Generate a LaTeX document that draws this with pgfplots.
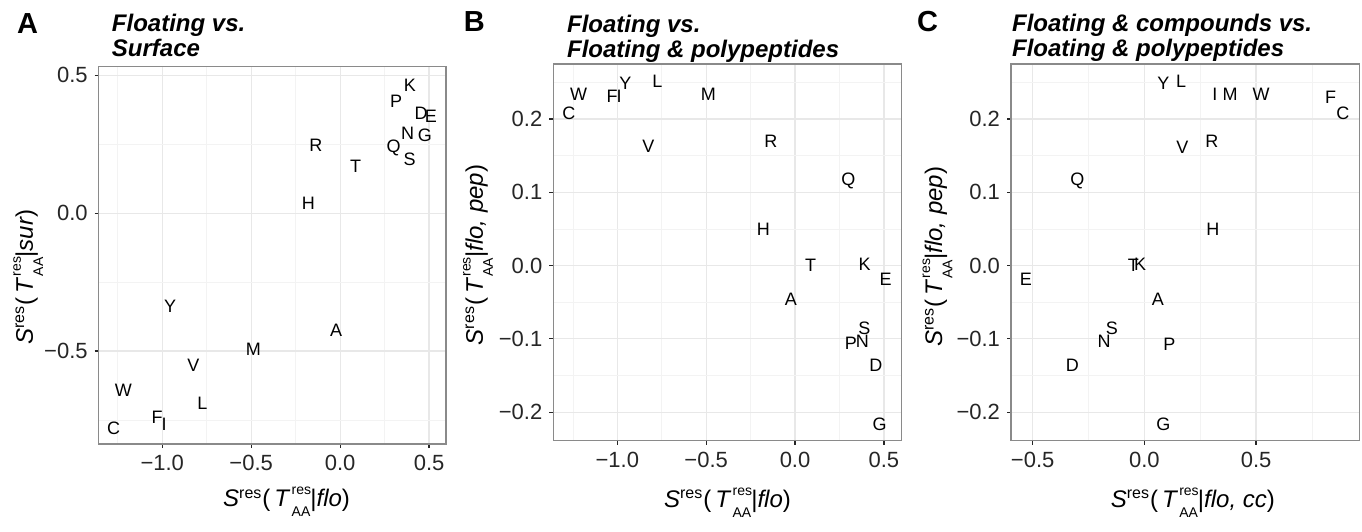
\documentclass[border=0pt]{standalone}
\usepackage{fontspec}
\setmainfont{Liberation Sans}
\usepackage{pgfplots}
\usepackage{pgfplotstable}
\pgfplotsset{compat=1.18}

\definecolor{bord}{HTML}{8A8A8A}
\definecolor{gridmaj}{HTML}{E8E8E8}
\definecolor{gridmin}{HTML}{F3F3F3}
\definecolor{tickc}{HTML}{262626}

\newcommand{\Sres}{\textit{S}\textsuperscript{res}}
\newcommand{\TAA}{\textit{T}\kern0.6pt\rlap{\raisebox{0.95ex}{\scriptsize res}}\raisebox{-0.8ex}{\scriptsize AA}}

% letter positions
\pgfplotstableread{
x y l
0.392 0.465 K
0.314 0.407 P
0.455 0.362 D
0.510 0.350 E
0.379 0.290 N
0.476 0.284 G
-0.136 0.247 R
0.300 0.236 Q
0.390 0.197 S
0.087 0.169 T
-0.178 0.034 H
-0.955 -0.336 Y
-0.023 -0.423 A
-0.488 -0.492 M
-0.825 -0.552 V
-1.218 -0.643 W
-0.774 -0.691 L
-1.029 -0.739 F
-0.989 -0.767 I
-1.273 -0.779 C
}\tabA

\pgfplotstableread{
x y l
-1.218 0.234 W
-1.273 0.208 C
-1.029 0.231 F
-0.989 0.231 I
-0.955 0.249 Y
-0.774 0.251 L
-0.488 0.234 M
-0.825 0.163 V
-0.136 0.169 R
0.300 0.115 Q
-0.178 0.049 H
0.087 0.000 T
0.392 0.002 K
0.510 -0.019 E
-0.023 -0.046 A
0.390 -0.085 S
0.314 -0.106 P
0.379 -0.104 N
0.455 -0.136 D
0.476 -0.217 G
}\tabB

\pgfplotstableread{
x y l
0.085 0.248 Y
0.164 0.251 L
0.316 0.233 I
0.384 0.233 M
0.522 0.234 W
0.834 0.230 F
0.888 0.208 C
0.170 0.162 V
0.302 0.169 R
-0.300 0.115 Q
0.306 0.049 H
-0.049 0.000 T
-0.019 0.002 K
-0.530 -0.019 E
0.060 -0.046 A
-0.146 -0.085 S
-0.180 -0.104 N
0.112 -0.107 P
-0.322 -0.136 D
0.085 -0.217 G
}\tabC

\tikzset{plabel/.style={anchor=base west, inner sep=0pt,
    font=\bfseries\fontsize{14.5}{14.5}\selectfont}}

\pgfplotsset{
  panel/.style={
    scale only axis,
    axis line style={draw=bord, line width=0.6pt},
    tick style={draw=tickc, line width=0.6pt},
    major tick length=2pt, minor tick length=0pt,
    tick align=outside, tick pos=left,
    grid=both,
    major grid style={draw=gridmaj, line width=0.6pt},
    minor grid style={draw=gridmin, line width=0.35pt},
    ticklabel style={font=\fontsize{11}{11}\selectfont, text=tickc},
    label style={font=\fontsize{12}{12}\selectfont},
    every axis title shift=0pt,
    title style={anchor=north west, align=left, inner sep=0pt,
      font=\bfseries\itshape\fontsize{12}{12.5}\selectfont},
  },
  letters/.style={draw=none, mark=none, nodes near coords,
    point meta=explicit symbolic, nodes near coords align=center,
    nodes near coords style={anchor=center, inner sep=0pt,
      font=\fontsize{9}{9}\selectfont}},
}

\begin{document}
\begin{tikzpicture}
\useasboundingbox (0pt,0pt) rectangle (681pt,265.5pt);

% A
\begin{axis}[panel,
  at={(49.35pt,43.5pt)}, anchor=south west,
  width=173.65pt, height=188.65pt,
  xmin=-1.357, xmax=0.595, ymin=-0.837, ymax=0.531,
  xtick={-1,-0.5,0,0.5}, xticklabels={−1.0,−0.5,0.0,0.5},
  ytick={-0.5,0,0.5}, yticklabels={−0.5,0.0,0.5},
  minor xtick={-1.25,-0.75,-0.25,0.25},
  minor ytick={-0.75,-0.25,0.25},
  xlabel={\Sres(\,\TAA|\textit{flo})},
  ylabel={\Sres(\,\TAA|\textit{sur})},
  xlabel style={at={(axis description cs:0.541,-0.154)}, anchor=center},
  ylabel style={at={(axis description cs:-0.203,0.443)}, anchor=center},
  title={Floating vs.\\Surface},
  title style={at={(axis description cs:0.037,1.141)}},
  extra description/.code={\node[plabel] at (axis description cs:-0.236,1.089) {A};},
]
\addplot[letters] table[x=x, y=y, meta=l] {\tabA};
\end{axis}

% B
\begin{axis}[panel,
  at={(276.65pt,45.15pt)}, anchor=south west,
  width=174.2pt, height=188.35pt,
  xmin=-1.36, xmax=0.60, ymin=-0.239, ymax=0.275,
  xtick={-1,-0.5,0,0.5}, xticklabels={−1.0,−0.5,0.0,0.5},
  ytick={-0.2,-0.1,0,0.1,0.2}, yticklabels={−0.2,−0.1,0.0,0.1,0.2},
  minor xtick={-1.25,-0.75,-0.25,0.25},
  minor ytick={-0.15,-0.05,0.05,0.15,0.25},
  xlabel={\Sres(\,\TAA|\textit{flo})},
  ylabel={\Sres(\,\TAA|\textit{flo, pep})},
  xlabel style={at={(axis description cs:0.5,-0.165)}, anchor=center},
  ylabel style={at={(axis description cs:-0.216,0.493)}, anchor=center},
  title={Floating vs.\\Floating \& polypeptides},
  title style={at={(axis description cs:0.0385,1.131)}},
  extra description/.code={\node[plabel] at (axis description cs:-0.258,1.085) {B};},
]
\addplot[letters] table[x=x, y=y, meta=l] {\tabB};
\end{axis}

% C
\begin{axis}[panel,
  at={(505.5pt,45.15pt)}, anchor=south west,
  width=174.15pt, height=188.35pt,
  xmin=-0.597, xmax=0.962, ymin=-0.239, ymax=0.275,
  xtick={-0.5,0,0.5}, xticklabels={−0.5,0.0,0.5},
  ytick={-0.2,-0.1,0,0.1,0.2}, yticklabels={−0.2,−0.1,0.0,0.1,0.2},
  minor xtick={-0.25,0.25,0.75},
  minor ytick={-0.15,-0.05,0.05,0.15,0.25},
  xlabel={\Sres(\,\TAA|\textit{flo, cc})},
  ylabel={\Sres(\,\TAA|\textit{flo, pep})},
  xlabel style={at={(axis description cs:0.522,-0.165)}, anchor=center},
  ylabel style={at={(axis description cs:-0.211,0.488)}, anchor=center},
  title={Floating \& compounds vs.\\Floating \& polypeptides},
  title style={at={(axis description cs:0.002,1.134)}},
  extra description/.code={\node[plabel] at (axis description cs:-0.271,1.087) {C};},
]
\addplot[letters] table[x=x, y=y, meta=l] {\tabC};
\end{axis}
\end{tikzpicture}
\end{document}
